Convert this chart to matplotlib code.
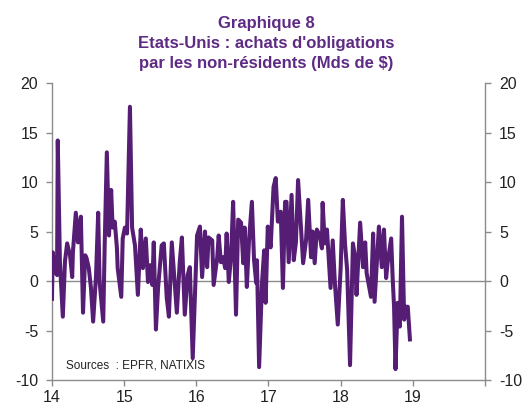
import matplotlib
matplotlib.use("Agg")
import matplotlib.pyplot as plt
import numpy as np

plt.rcParams["font.family"] = ["Liberation Sans", "DejaVu Sans"]
plt.rcParams["axes.unicode_minus"] = False

# fractional years and weekly flows, Mds de $
years = [
    14.00, 14.01, 14.04, 14.07, 14.08, 14.11, 14.15, 14.18, 14.21, 14.25, 14.28, 14.29,
    14.33, 14.36, 14.40, 14.43, 14.46, 14.48, 14.51, 14.54, 14.57, 14.61, 14.64, 14.66,
    14.71, 14.73, 14.76, 14.79, 14.82, 14.84, 14.87, 14.90, 14.91, 14.96, 14.98, 15.01,
    15.04, 15.08, 15.11, 15.15, 15.19, 15.23, 15.26, 15.30, 15.33, 15.36, 15.39, 15.41,
    15.44, 15.47, 15.52, 15.55, 15.59, 15.62, 15.66, 15.70, 15.73, 15.77, 15.80, 15.84,
    15.88, 15.91, 15.95, 16.01, 16.05, 16.08, 16.12, 16.15, 16.17, 16.22, 16.24, 16.29,
    16.31, 16.34, 16.37, 16.40, 16.42, 16.45, 16.48, 16.51, 16.55, 16.58, 16.62, 16.65,
    16.67, 16.70, 16.73, 16.77, 16.80, 16.83, 16.84, 16.87, 16.91, 16.94, 16.96, 16.99,
    17.03, 17.07, 17.10, 17.13, 17.17, 17.20, 17.23, 17.25, 17.28, 17.32, 17.35, 17.38,
    17.41, 17.45, 17.48, 17.52, 17.55, 17.59, 17.61, 17.64, 17.67, 17.71, 17.74, 17.75,
    17.78, 17.81, 17.86, 17.89, 17.92, 17.96, 18.00, 18.03, 18.06, 18.09, 18.13, 18.17,
    18.20, 18.22, 18.27, 18.31, 18.34, 18.36, 18.42, 18.45, 18.47, 18.50, 18.53, 18.57,
    18.60, 18.63, 18.65, 18.70, 18.72, 18.74, 18.76, 18.79, 18.82, 18.85, 18.88, 18.90,
    18.93, 18.96,
]
flows = [
    -1.8, 2.9, 1.0, 0.6, 14.2, 1.9, -3.6, 2.0, 3.8, 2.6, 0.4, 2.9,
    6.9, 3.9, 6.5, -3.2, 2.6, 2.3, 1.3, -0.7, -4.1, 0.5, 6.9, -0.1,
    -4.1, 3.6, 13.0, 4.6, 9.2, 5.4, 6.0, 3.3, 1.3, -1.6, 4.3, 5.4,
    4.8, 17.6, 5.4, 3.6, -1.4, 5.2, 1.3, 4.3, -0.1, 1.6, -0.4, 3.9,
    -4.9, -0.7, 3.6, 3.8, -1.7, -3.6, 3.9, -0.1, -3.2, 1.9, 4.4, -3.4,
    0.6, 1.4, -7.8, 4.6, 5.5, 0.4, 5.0, 1.4, 4.4, 4.1, -0.4, 2.4,
    4.6, 1.9, 2.4, 1.3, 4.8, -0.1, 2.4, 8.0, -3.4, 6.2, 5.9, 1.8,
    5.4, -0.6, 4.1, 8.0, 2.1, -0.2, 2.1, -8.7, -0.2, 3.1, -2.2, 5.5,
    3.4, 9.5, 10.4, 6.0, 7.0, -0.7, 8.0, 8.0, 1.9, 8.7, 2.1, 3.9,
    10.2, 5.5, 1.8, 4.1, 8.2, 2.4, 5.0, 1.8, 5.2, 4.6, 3.3, 7.9,
    3.8, 5.2, -0.7, 4.1, -0.2, -4.4, 1.3, 8.2, 3.8, 1.1, -8.5, 3.8,
    2.4, -1.4, 5.9, 1.4, 3.9, 0.8, -1.6, 4.8, -2.1, 1.8, 5.5, 1.4,
    5.2, 0.3, 1.8, 4.3, 0.4, -2.6, -8.9, -2.2, -4.6, 6.5, -3.9, -2.6,
    -2.6, -5.9,
]
x_ticks = [14, 15, 16, 17, 18, 19, 20]
x_labels = ["14", "15", "16", "17", "18", "19", ""]
y_ticks = [-10, -5, 0, 5, 10, 15, 20]

PURPLE = "#561d75"
TITLE = "#5e2a84"
GREY = "#8c8c8c"

fig = plt.figure(figsize=(5.22, 4.07), dpi=100)
ax = fig.add_axes([0.0996, 0.0663, 0.8295, 0.7297])

ax.axhline(0, color=GREY, lw=1.0, zorder=1)
ax.plot(years, flows, color=PURPLE, lw=2.9, solid_joinstyle="round", zorder=3)

ax.set_xlim(14, 20)
ax.set_ylim(-10, 20)
ax.set_xticks(x_ticks)
ax.set_xticklabels(x_labels)
ax.set_yticks(y_ticks)
ax.tick_params(axis="both", labelsize=11.5, colors="#222222", length=4, width=1.0)
ax.tick_params(axis="both", color=GREY)
ax.tick_params(axis="y", right=True, labelright=True, pad=6)
ax.tick_params(axis="x", pad=3)

for side in ["left", "right", "bottom"]:
    ax.spines[side].set_color(GREY)
    ax.spines[side].set_linewidth(1.0)
ax.spines["top"].set_visible(False)

ax.text(14.2, -8.85, "Sources  : EPFR, NATIXIS", fontsize=8.5, color="#222222")

fig.text(0.51, 0.943, "Graphique 8", ha="center", va="center",
         fontsize=12, fontweight="bold", color=TITLE)
fig.text(0.51, 0.894, "Etats-Unis : achats d'obligations", ha="center", va="center",
         fontsize=12, fontweight="bold", color=TITLE)
fig.text(0.51, 0.845, "par les non-résidents (Mds de $)", ha="center", va="center",
         fontsize=12, fontweight="bold", color=TITLE)

fig.savefig("out.png", dpi=100)
